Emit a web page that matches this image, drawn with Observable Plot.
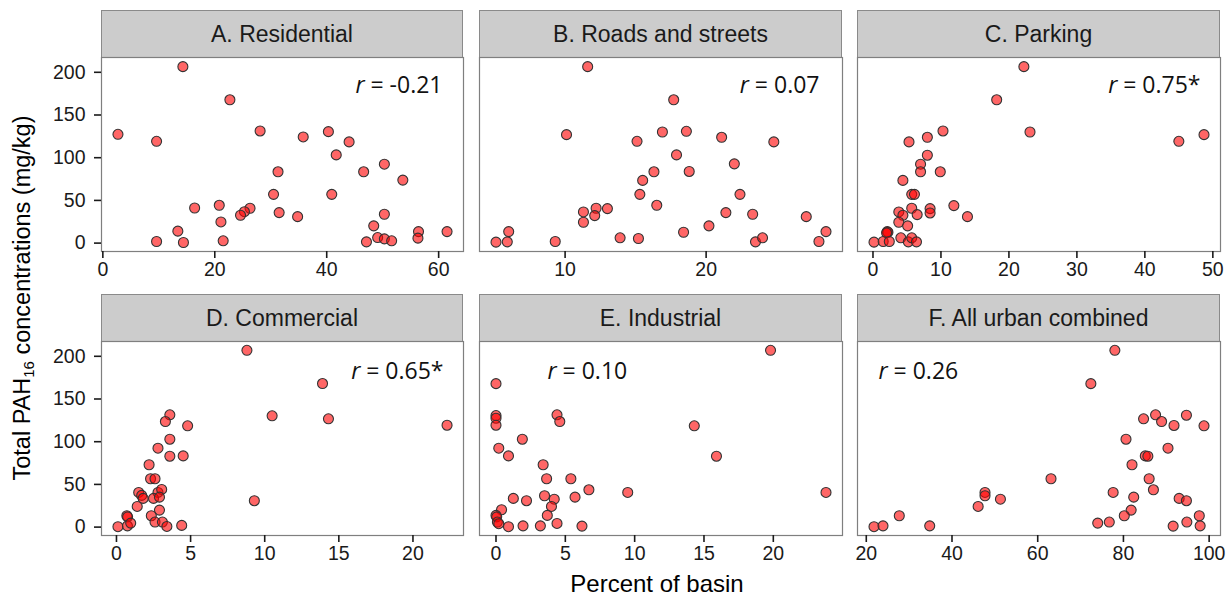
<!DOCTYPE html>
<html><head><meta charset="utf-8">
<script src="https://cdn.jsdelivr.net/npm/d3@7"></script>
<script src="https://cdn.jsdelivr.net/npm/@observablehq/plot@0.6"></script>
<style>
body{margin:0;background:#fff;}
#chart{position:relative;width:1227px;height:597px;font-family:"Liberation Sans",Arial,sans-serif;color:#000;overflow:hidden;}
.strip{position:absolute;box-sizing:border-box;background:#cccccc;border:1px solid #8a8a8a;font-size:23px;display:flex;align-items:center;justify-content:center;color:#1a1a1a;}
.panel{position:absolute;}
.ytitle{position:absolute;left:22.7px;top:297.5px;transform:translate(-50%,-50%) rotate(-90deg);white-space:nowrap;font-size:23.5px;line-height:1;}
.ytitle sub{font-size:15px;vertical-align:-4px;line-height:0;}
.xtitle{position:absolute;left:657px;top:572px;height:24px;transform:translateX(-50%);white-space:nowrap;font-size:24px;line-height:24px;}
</style></head><body><div id="chart"></div>
<script>
// ---- data ----
const panelTitles = ["A. Residential", "B. Roads and streets", "C. Parking", "D. Commercial", "E. Industrial", "F. All urban combined"];
const rValues = ["-0.21", "0.07", "0.75*", "0.65*", "0.10", "0.26"];
const yTicks = [0, 50, 100, 150, 200];
const xTicksResidential = [0, 20, 40, 60];
const xTicksRoads = [10, 20];
const xTicksParking = [0, 10, 20, 30, 40, 50];
const xTicksCommercial = [0, 5, 10, 15, 20];
const xTicksIndustrial = [0, 5, 10, 15, 20];
const xTicksUrban = [20, 40, 60, 80, 100];

const residentialX = [14.3,22.7,2.7,9.6,28.1,35.8,40.3,44.0,41.7,50.3,46.6,31.3,53.6,30.5,40.9,16.4,20.8,26.3,25.3,24.6,31.5,34.8,50.3,21.1,13.4,48.4,56.4,61.5,9.6,14.4,21.5,47.1,49.1,50.3,51.6,56.3];
const residentialY = [206.6,167.8,127.4,119.2,131.3,124.3,130.5,118.5,103.3,92.4,83.5,83.5,73.8,57.1,57.1,41.1,44.3,40.8,36.8,32.6,35.7,31.0,33.8,24.8,14.0,20.2,13.5,13.5,1.9,0.7,2.7,1.5,6.5,5.0,2.7,5.8];

const roadsX = [11.6,17.7,10.1,15.1,16.9,18.6,21.1,24.8,17.9,22.0,16.3,18.8,15.5,15.3,22.4,16.5,11.3,12.2,12.1,13.0,21.4,23.3,27.1,11.3,20.2,6.0,5.1,5.9,9.3,13.9,15.2,18.4,23.5,24.0,28.0,28.5];
const roadsY = [206.6,167.8,127.0,119.2,130.1,130.9,123.9,118.5,103.3,92.8,83.5,83.9,73.4,57.1,57.1,44.3,36.5,40.8,32.2,40.4,35.7,33.8,31.0,24.4,20.2,13.5,1.1,1.5,1.9,6.2,5.4,12.7,1.5,6.2,1.9,13.5];

const parkingX = [22.2,18.2,23.1,48.7,45.0,10.3,8.0,5.3,8.0,7.0,7.0,9.9,4.4,5.7,6.1,11.9,5.7,8.4,8.4,3.8,4.4,6.5,13.9,3.8,5.1,2.1,2.2,2.0,0.15,1.5,2.4,4.1,5.2,5.7,6.4];
const parkingY = [206.6,167.8,130.1,127.0,119.2,131.3,123.9,118.5,102.9,92.4,83.5,83.5,73.4,57.1,57.1,43.9,40.8,40.4,35.3,36.5,32.6,33.4,31.0,24.4,20.2,13.5,12.7,12.0,1.1,1.9,1.9,6.2,1.5,6.2,1.5];

const commercialX = [8.8,13.9,10.5,14.3,22.3,3.6,3.3,4.8,3.6,2.8,3.6,4.5,2.2,2.3,2.6,9.3,1.5,1.7,1.8,2.8,3.05,2.5,2.9,1.4,2.9,2.35,0.7,0.75,0.1,0.74,0.96,2.6,3.1,3.4,4.4];
const commercialY = [207.0,168.1,130.3,126.8,119.3,131.5,123.6,118.6,102.9,92.4,83.0,83.4,73.0,56.6,56.6,30.9,40.6,37.1,33.6,40.6,44.1,33.6,35.1,24.2,19.9,13.3,13.3,12.0,0.5,1.5,4.7,5.9,5.9,0.8,2.0];

const industrialX = [19.8,0.0,0.0,0.0,0.0,4.4,4.6,14.3,1.9,0.2,0.9,15.9,3.4,3.65,5.4,6.7,9.5,23.8,1.25,2.2,3.5,4.2,5.7,4.0,0.4,3.7,0.0,0.05,0.1,0.2,0.9,1.95,3.2,4.4,6.2];
const industrialY = [207,168,130.6,127.5,119.3,131.5,123.6,118.6,102.9,92.4,83.4,83.0,73.0,56.6,56.6,43.7,40.6,40.6,33.6,30.9,36.7,32.7,35.1,24.2,20.3,13.7,13.7,12.0,5.9,4.0,0.5,1.5,1.5,4.3,1.2];

const urbanX = [78.0,72.4,84.7,87.5,88.9,91.8,94.7,98.8,80.6,90.4,85.1,85.7,82.0,86.0,63.1,87.0,77.6,47.7,47.7,51.3,82.4,93.0,94.7,46.1,81.8,80.2,27.7,97.7,21.8,23.9,34.8,74.0,76.7,91.6,94.8,97.9];
const urbanY = [207,168,126.8,131.5,123.6,119,131,118.6,102.9,92.4,83.4,83.0,73.0,56.6,56.6,43.7,40.6,40.6,36.7,32.7,35.1,33.6,30.9,24.2,19.9,13.3,13.3,13.3,0.5,1.5,1.5,4.7,5.9,1.2,5.9,1.5];

// ---- build ----
const seriesX = [residentialX, roadsX, parkingX, commercialX, industrialX, urbanX];
const seriesY = [residentialY, roadsY, parkingY, commercialY, industrialY, urbanY];
const seriesTicks = [xTicksResidential, xTicksRoads, xTicksParking, xTicksCommercial, xTicksIndustrial, xTicksUrban];

const panelLefts = [101, 479, 857];
const panelWidths = [362, 363, 363];
const panelTops = [57, 341];
const panelH = 194, stripH = 47;
const labelPlacement = [
  {frameAnchor: "top-right", dx: -21, dy: 28, textAnchor: "end"},
  {frameAnchor: "top-right", dx: -23, dy: 28, textAnchor: "end"},
  {frameAnchor: "top-right", dx: -20, dy: 28, textAnchor: "end"},
  {frameAnchor: "top-right", dx: -20, dy: 30, textAnchor: "end"},
  {frameAnchor: "top-left", dx: 68, dy: 30, textAnchor: "start"},
  {frameAnchor: "top-left", dx: 21, dy: 30, textAnchor: "start"}
];

function padded(values) {
  const [a, b] = d3.extent(values);
  const e = (b - a) * 0.05;
  return [a - e, b + e];
}
const yDomain = padded(seriesY.flat());

const chart = document.getElementById("chart");

for (let i = 0; i < 6; i++) {
  const row = Math.floor(i / 3), col = i % 3;
  const left = panelLefts[col], top = panelTops[row], w = panelWidths[col];
  const data = seriesX[i].map((x, k) => ({x, y: seriesY[i][k]}));

  const strip = document.createElement("div");
  strip.className = "strip";
  strip.style.left = left + "px";
  strip.style.top = (top - stripH) + "px";
  strip.style.width = w + "px";
  strip.style.height = (stripH + 1) + "px";
  strip.textContent = panelTitles[i];
  chart.appendChild(strip);

  const ml = col === 0 ? 101 : 12;
  const mb = 45;
  const marks = [
    Plot.frame({stroke: "#7f7f7f", strokeWidth: 1.2}),
    Plot.axisX({ticks: seriesTicks[i], tickSize: 7, tickPadding: 4, label: null, fontSize: 19.5, strokeWidth: 1.6}),
    Plot.dot(data, {x: "x", y: "y", r: 5, fill: "#ff0000", fillOpacity: 0.6, stroke: "#333", strokeWidth: 1.1}),
    Plot.text(["r = " + rValues[i]], {...labelPlacement[i], text: d => d, lineAnchor: "middle", fontSize: 23, fontFamily: "'Open Sans', 'Noto Sans', sans-serif", fill: "#111"})
  ];
  if (col === 0) marks.push(Plot.axisY({ticks: yTicks, tickSize: 7, tickPadding: 9, label: null, fontSize: 19.5, strokeWidth: 1.6}));

  const svg = Plot.plot({
    width: ml + w + 2,
    height: 1 + panelH + mb,
    marginLeft: ml, marginRight: 2, marginTop: 1, marginBottom: mb,
    x: {domain: padded(seriesX[i]), axis: null},
    y: {domain: yDomain, axis: null},
    style: {fontFamily: "'Liberation Sans', Arial, sans-serif", fontSize: "19.5px", background: "transparent", color: "#1a1a1a", overflow: "visible"},
    marks
  });
  svg.classList.add("panel");
  svg.style.left = (left - ml) + "px";
  svg.style.top = (top - 1) + "px";
  svg.style.maxWidth = "none";
  d3.select(svg).selectAll('g[aria-label="text"] text').each(function () {
    const t = this.textContent;
    if (t.startsWith("r = ")) {
      const s = d3.select(this);
      s.text(null);
      s.append("tspan").attr("font-style", "italic").text("r");
      s.append("tspan").text(t.slice(1));
    }
  });
  chart.appendChild(svg);
}

const yt = document.createElement("div");
yt.className = "ytitle";
yt.innerHTML = "Total PAH<sub>16</sub> concentrations (mg/kg)";
chart.appendChild(yt);
const xt = document.createElement("div");
xt.className = "xtitle";
xt.textContent = "Percent of basin";
chart.appendChild(xt);
</script></body></html>
